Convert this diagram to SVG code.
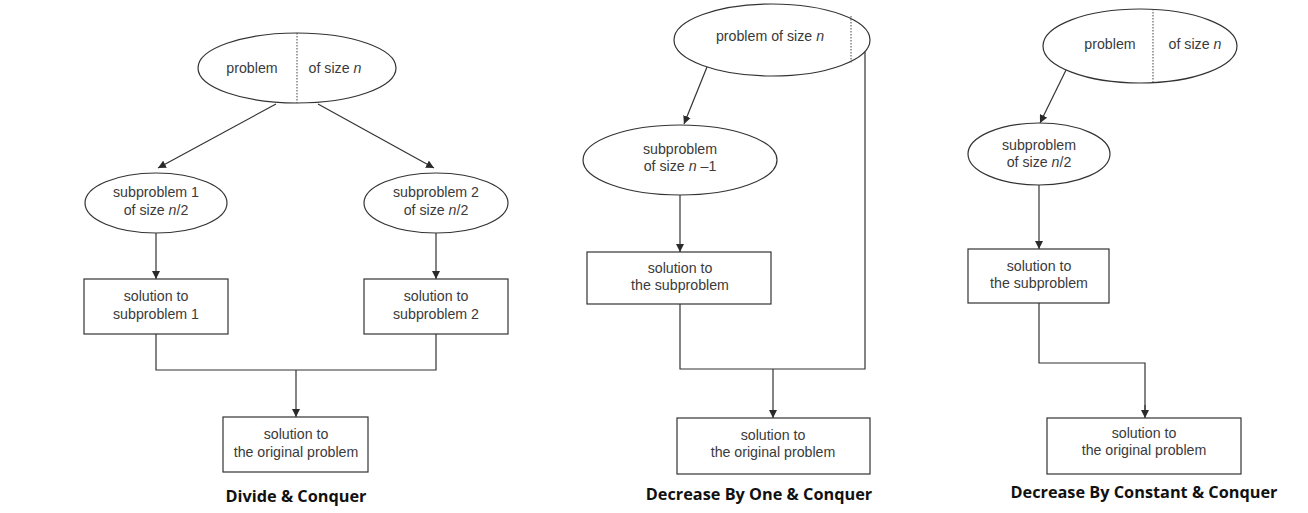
<svg xmlns="http://www.w3.org/2000/svg" width="1308" height="513" viewBox="0 0 1308 513">
<defs>
<marker id="ah" viewBox="0 0 10 10" refX="10" refY="5" markerWidth="8" markerHeight="8" markerUnits="userSpaceOnUse" orient="auto">
<path d="M0,0 L10,5 L0,10 z" fill="#2a2a2a"/>
</marker>
</defs>
<style>
.sh{fill:#fff;stroke:#333;stroke-width:1.2}
.dot{stroke:#444;stroke-width:1;stroke-dasharray:1.5,1.5;fill:none}
.ln{stroke:#333;stroke-width:1.2;fill:none}
.ar{stroke:#333;stroke-width:1.2;fill:none;marker-end:url(#ah)}
.t{font-family:"Liberation Sans",Arial,sans-serif;font-size:14.2px;fill:#3a3a3a;text-anchor:middle}
.title{font-family:"Open Sans","Noto Sans",sans-serif;font-weight:bold;font-size:16.3px;fill:#111;text-anchor:middle}
</style>
<rect width="1308" height="513" fill="#fff"/>

<g id="connectors">
<line class="ar" x1="276" y1="104" x2="158" y2="168"/>
<line class="ar" x1="318" y1="104" x2="434" y2="168"/>
<line class="ar" x1="156" y1="233" x2="156" y2="279"/>
<line class="ar" x1="436" y1="233" x2="436" y2="279"/>
<polyline class="ln" points="156,334 156,370 436,370 436,334"/>
<line class="ar" x1="296" y1="370" x2="296" y2="417"/>
<line class="ar" x1="707" y1="67" x2="684" y2="124"/>
<line class="ar" x1="680" y1="195" x2="680" y2="252"/>
<polyline class="ln" points="680,304 680,369 865,369 865,52"/>
<line class="ar" x1="773" y1="369" x2="773" y2="418"/>
<line class="ar" x1="1067" y1="68" x2="1040" y2="123"/>
<line class="ar" x1="1039" y1="185" x2="1039" y2="249"/>
<polyline class="ln" points="1039,303 1039,363 1145,363 1145,410"/>
<line class="ar" x1="1145" y1="405" x2="1145" y2="418"/>
</g>

<g id="p1-problem">
<ellipse class="sh" cx="297" cy="68" rx="99" ry="35"/>
<line class="dot" x1="297" y1="33" x2="297" y2="103"/>
<text class="t" x="252" y="73">problem</text>
<text class="t" x="335" y="73">of size <tspan font-style="italic">n</tspan></text>
</g>
<g id="p1-sub1">
<ellipse class="sh" cx="156" cy="203" rx="71" ry="30"/>
<text class="t" x="156" y="197">subproblem 1</text>
<text class="t" x="156" y="215">of size <tspan font-style="italic">n</tspan>/2</text>
</g>
<g id="p1-sub2">
<ellipse class="sh" cx="436" cy="203" rx="72" ry="30"/>
<text class="t" x="436" y="197">subproblem 2</text>
<text class="t" x="436" y="215">of size <tspan font-style="italic">n</tspan>/2</text>
</g>
<g id="p1-sol1">
<rect class="sh" x="84" y="279" width="144" height="55"/>
<text class="t" x="156" y="301">solution to</text>
<text class="t" x="156" y="319">subproblem 1</text>
</g>
<g id="p1-sol2">
<rect class="sh" x="364" y="279" width="144" height="55"/>
<text class="t" x="436" y="301">solution to</text>
<text class="t" x="436" y="319">subproblem 2</text>
</g>
<g id="p1-final">
<rect class="sh" x="223" y="417" width="145" height="55"/>
<text class="t" x="296" y="439">solution to</text>
<text class="t" x="296" y="457">the original problem</text>
</g>
<text class="title" x="296" y="502">Divide &amp; Conquer</text>

<g id="p2-problem">
<ellipse class="sh" cx="772" cy="40" rx="98" ry="36"/>
<line class="dot" x1="851" y1="16" x2="851" y2="64"/>
<text class="t" x="770" y="41">problem of size <tspan font-style="italic">n</tspan></text>
</g>
<g id="p2-sub">
<ellipse class="sh" cx="680" cy="160" rx="97" ry="35"/>
<text class="t" x="680" y="154">subproblem</text>
<text class="t" x="680" y="171">of size <tspan font-style="italic">n</tspan> –1</text>
</g>
<g id="p2-sol">
<rect class="sh" x="587" y="252" width="184" height="52"/>
<text class="t" x="680" y="273">solution to</text>
<text class="t" x="680" y="290">the subproblem</text>
</g>
<g id="p2-final">
<rect class="sh" x="677" y="418" width="193" height="56"/>
<text class="t" x="773" y="440">solution to</text>
<text class="t" x="773" y="457">the original problem</text>
</g>
<text class="title" x="759" y="500">Decrease By One &amp; Conquer</text>

<g id="p3-problem">
<ellipse class="sh" cx="1140" cy="46" rx="97" ry="37"/>
<line class="dot" x1="1153" y1="9" x2="1153" y2="83"/>
<text class="t" x="1110" y="49">problem</text>
<text class="t" x="1195" y="49">of size <tspan font-style="italic">n</tspan></text>
</g>
<g id="p3-sub">
<ellipse class="sh" cx="1039" cy="154" rx="71" ry="31"/>
<text class="t" x="1039" y="150">subproblem</text>
<text class="t" x="1039" y="167">of size <tspan font-style="italic">n</tspan>/2</text>
</g>
<g id="p3-sol">
<rect class="sh" x="968" y="249" width="141" height="54"/>
<text class="t" x="1039" y="271">solution to</text>
<text class="t" x="1039" y="288">the subproblem</text>
</g>
<g id="p3-final">
<rect class="sh" x="1047" y="418" width="194" height="56"/>
<text class="t" x="1144" y="438">solution to</text>
<text class="t" x="1144" y="455">the original problem</text>
</g>
<text class="title" x="1144" y="498">Decrease By Constant &amp; Conquer</text>
</svg>
